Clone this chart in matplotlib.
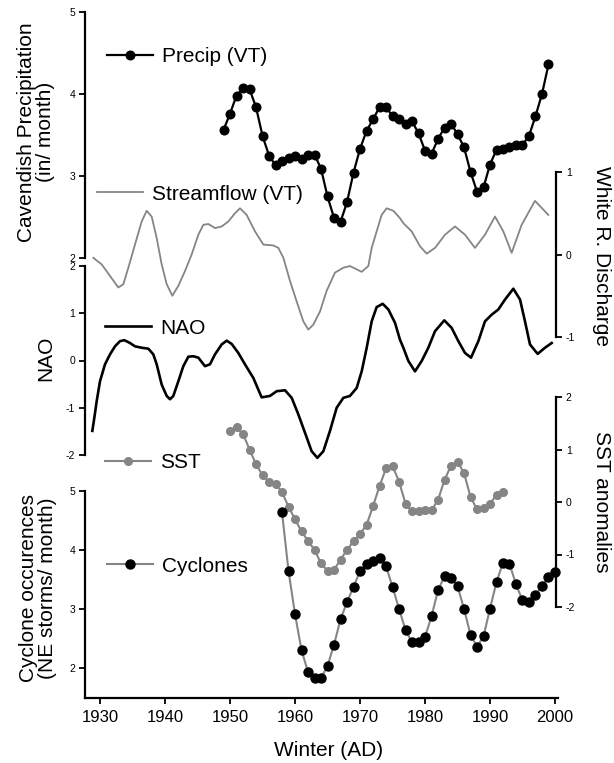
import matplotlib
matplotlib.use("Agg")
import matplotlib.pyplot as plt
from matplotlib.lines import Line2D

plt.rcParams['font.family'] = ['Liberation Sans', 'DejaVu Sans']
plt.rcParams['axes.unicode_minus'] = False

# ---------------- data ----------------
precip_years = list(range(1949, 2000))
precip_vals = [3.56, 3.76, 3.98, 4.07, 4.06, 3.84, 3.49, 3.25, 3.13, 3.18,
               3.22, 3.25, 3.21, 3.26, 3.26, 3.09, 2.75, 2.49, 2.44, 2.68,
               3.04, 3.33, 3.55, 3.69, 3.84, 3.84, 3.73, 3.69, 3.64, 3.67,
               3.52, 3.31, 3.27, 3.45, 3.59, 3.64, 3.51, 3.35, 3.05, 2.81,
               2.86, 3.14, 3.32, 3.33, 3.35, 3.38, 3.38, 3.49, 3.73, 4.00,
               4.36]

flow_years = [1928.97, 1930.26, 1931.54, 1932.82, 1933.59, 1934.36, 1935.38,
              1936.41, 1937.18, 1937.95, 1938.72, 1939.49, 1940.26, 1941.13,
              1942.05, 1943.08, 1944.10, 1945.13, 1945.90, 1946.67, 1947.69,
              1948.72, 1949.74, 1950.77, 1951.54, 1952.56, 1953.85, 1955.13,
              1956.67, 1957.44, 1958.21, 1959.23, 1960.26, 1961.28, 1962.05,
              1962.82, 1963.85, 1964.87, 1966.15, 1967.44, 1968.46, 1970.26,
              1971.28, 1971.80, 1972.56, 1973.33, 1974.10, 1975.13, 1976.15,
              1976.67, 1977.95, 1979.23, 1980.26, 1981.54, 1983.08, 1984.62,
              1986.15, 1987.69, 1989.23, 1990.77, 1992.05, 1993.33, 1994.87,
              1996.92, 1998.97]
flow_vals = [-0.04, -0.12, -0.26, -0.40, -0.36, -0.16, 0.12,
             0.40, 0.53, 0.46, 0.20, -0.12, -0.36, -0.50,
             -0.38, -0.20, 0.00, 0.24, 0.36, 0.37, 0.32,
             0.34, 0.40, 0.50, 0.56, 0.48, 0.28, 0.12,
             0.11, 0.08, -0.04, -0.32, -0.57, -0.81, -0.91,
             -0.85, -0.69, -0.44, -0.22, -0.16, -0.14, -0.21,
             -0.14, 0.08, 0.28, 0.48, 0.56, 0.53, 0.44,
             0.38, 0.28, 0.10, 0.01, 0.08, 0.24, 0.34,
             0.24, 0.08, 0.24, 0.46, 0.28, 0.02, 0.36,
             0.65, 0.48]

nao_years = [1928.82, 1929.13, 1929.49, 1930.00, 1930.77, 1931.54, 1932.31,
             1933.08, 1933.74, 1934.62, 1935.38, 1936.41, 1937.44, 1938.20,
             1938.72, 1939.49, 1940.26, 1940.77, 1941.28, 1942.05, 1942.82,
             1943.59, 1944.36, 1945.13, 1946.15, 1946.92, 1947.69, 1948.72,
             1949.49, 1950.26, 1951.28, 1952.30, 1953.59, 1954.87, 1956.15,
             1957.18, 1958.46, 1959.49, 1960.51, 1961.54, 1962.56, 1963.44,
             1964.36, 1965.38, 1966.41, 1967.44, 1968.46, 1969.49, 1970.26,
             1971.03, 1971.80, 1972.56, 1973.49, 1974.36, 1975.38, 1976.15,
             1976.67, 1977.44, 1978.46, 1979.49, 1980.51, 1981.54, 1982.97,
             1984.10, 1985.13, 1986.15, 1987.08, 1988.21, 1989.23, 1990.26,
             1991.28, 1992.31, 1993.59, 1994.62, 1995.38, 1996.15, 1997.33,
             1998.46, 1999.49]
nao_vals = [-1.49, -1.21, -0.86, -0.44, -0.08, 0.13, 0.30,
            0.41, 0.43, 0.37, 0.30, 0.27, 0.25, 0.13,
            -0.08, -0.51, -0.75, -0.82, -0.75, -0.44, -0.12,
            0.08, 0.09, 0.06, -0.12, -0.08, 0.13, 0.34,
            0.42, 0.35, 0.16, -0.08, -0.37, -0.78, -0.75,
            -0.65, -0.63, -0.79, -1.14, -1.53, -1.92, -2.06,
            -1.92, -1.49, -1.00, -0.79, -0.75, -0.58, -0.23,
            0.27, 0.83, 1.13, 1.20, 1.08, 0.80, 0.44,
            0.27, -0.01, -0.23, -0.01, 0.27, 0.62, 0.85,
            0.69, 0.41, 0.16, 0.06, 0.41, 0.83, 0.97,
            1.08, 1.29, 1.52, 1.29, 0.83, 0.34, 0.14,
            0.27, 0.37]

sst_years = list(range(1950, 1993))
sst_vals = [1.35, 1.42, 1.30, 1.00, 0.72, 0.51, 0.39, 0.34, 0.19, -0.09,
            -0.33, -0.56, -0.74, -0.91, -1.17, -1.31, -1.29, -1.10, -0.91, -0.75,
            -0.61, -0.44, -0.08, 0.30, 0.64, 0.69, 0.39, -0.03, -0.18, -0.18,
            -0.15, -0.16, 0.04, 0.42, 0.69, 0.77, 0.55, 0.10, -0.14, -0.12,
            -0.03, 0.13, 0.20]

cyc_years = list(range(1958, 2001))
cyc_vals = [4.64, 3.65, 2.92, 2.31, 1.94, 1.84, 1.84, 2.04, 2.40, 2.83,
            3.12, 3.38, 3.64, 3.77, 3.81, 3.87, 3.73, 3.38, 3.01, 2.65,
            2.44, 2.44, 2.53, 2.88, 3.32, 3.56, 3.53, 3.39, 3.01, 2.57,
            2.37, 2.54, 3.01, 3.46, 3.79, 3.77, 3.42, 3.15, 3.12, 3.25,
            3.39, 3.55, 3.63]

x_ticks = [1930, 1940, 1950, 1960, 1970, 1980, 1990, 2000]

# ---------------- layout ----------------
W, H = 614, 763
fig = plt.figure(figsize=(W / 100, H / 100), dpi=100)

PX_PER_YEAR = 6.5
X1930 = 100.0


def year_at(px):
    return 1930 + (px - X1930) / PX_PER_YEAR


def make_axes(x0, x1, ytop, ybot, ylim):
    ax = fig.add_axes([x0 / W, 1 - ybot / H, (x1 - x0) / W, (ybot - ytop) / H])
    ax.set_xlim(year_at(x0), year_at(x1))
    ax.set_ylim(*ylim)
    ax.patch.set_visible(False)
    for s in ax.spines.values():
        s.set_visible(False)
        s.set_linewidth(1.6)
    ax.set_xticks([])
    ax.tick_params(axis='y', direction='out', length=4, width=1.3,
                   labelsize=7.5, pad=3)
    return ax


GRAY = '#858585'

# Precip
ax_p = make_axes(85, 558, 12, 258, (2, 5))
ax_p.spines['left'].set_visible(True)
ax_p.set_yticks([2, 3, 4, 5])
ax_p.plot(precip_years, precip_vals, color='black', lw=1.6, marker='o',
          ms=6.2, clip_on=False, zorder=3)

# Streamflow (right)
ax_s = make_axes(85, 556, 172, 337, (-1, 1))
ax_s.spines['right'].set_visible(True)
ax_s.yaxis.tick_right()
ax_s.set_yticks([-1, 0, 1])
ax_s.plot(flow_years, flow_vals, color=GRAY, lw=1.3, clip_on=False)

# NAO
ax_n = make_axes(85, 558, 266, 455, (-2, 2))
ax_n.spines['left'].set_visible(True)
ax_n.set_yticks([-2, -1, 0, 1, 2])
ax_n.plot(nao_years, nao_vals, color='black', lw=1.9, clip_on=False)

# SST (right)
ax_t = make_axes(85, 556, 397, 607, (-2, 2))
ax_t.spines['right'].set_visible(True)
ax_t.yaxis.tick_right()
ax_t.set_yticks([-2, -1, 0, 1, 2])
ax_t.plot(sst_years, sst_vals, color=GRAY, lw=1.5, marker='o', ms=5.5,
          clip_on=False, zorder=3)

# Cyclones
ax_c = make_axes(85, 558, 491, 698, (1.5, 5))
ax_c.spines['left'].set_visible(True)
ax_c.spines['bottom'].set_visible(True)
ax_c.spines['left'].set_bounds(1.5, 5)
ax_c.set_yticks([2, 3, 4, 5])
ax_c.set_xticks(x_ticks)
ax_c.tick_params(axis='x', direction='out', length=4, width=1.3,
                 labelsize=12, pad=5)
ax_c.plot(cyc_years, cyc_vals, color=GRAY, lw=1.5, marker='o', ms=6.5,
          mfc='black', mec='black', clip_on=False, zorder=3)

# ---------------- legends ----------------
LFS = 15


def add_legend(ax, handle, label, x, y):
    leg = ax.legend([handle], [label], loc='center left',
                    bbox_to_anchor=(x / W, 1 - y / H),
                    bbox_transform=fig.transFigure, frameon=False,
                    fontsize=LFS, handlelength=2.2, handletextpad=0.45,
                    borderpad=0, borderaxespad=0, numpoints=1)
    return leg


add_legend(ax_p, Line2D([], [], color='black', lw=1.6, marker='o', ms=6.2),
           'Precip (VT)', 107, 57)
add_legend(ax_s, Line2D([], [], color=GRAY, lw=1.3), 'Streamflow (VT)', 97, 194)
add_legend(ax_n, Line2D([], [], color='black', lw=1.9), 'NAO', 105, 328)
add_legend(ax_t, Line2D([], [], color=GRAY, lw=1.5, marker='o', ms=5.5),
           'SST', 105, 463)
add_legend(ax_c, Line2D([], [], color=GRAY, lw=1.5, marker='o', ms=6.5,
                        mfc='black', mec='black'), 'Cyclones', 107, 566)

# ---------------- axis labels ----------------
AFS = 15
fig.text(36 / W, 1 - 132 / H, 'Cavendish Precipitation\n(in/ month)',
         rotation=90, ha='center', va='center', fontsize=AFS, linespacing=1.0,
         multialignment='center')
fig.text(46 / W, 1 - 358 / H, 'NAO', rotation=90, ha='center', va='center',
         fontsize=AFS)
fig.text(38 / W, 1 - 588 / H, 'Cyclone occurences\n(NE storms/ month)',
         rotation=90, ha='center', va='center', fontsize=AFS, linespacing=1.0,
         multialignment='center')
fig.text(602 / W, 1 - 256 / H, 'White R. Discharge', rotation=270,
         ha='center', va='center', fontsize=AFS)
fig.text(602 / W, 1 - 502 / H, 'SST anomalies', rotation=270,
         ha='center', va='center', fontsize=AFS)
fig.text(329 / W, 1 - 751 / H, 'Winter (AD)', ha='center', va='center',
         fontsize=AFS)

fig.savefig('out.png', dpi=100)
